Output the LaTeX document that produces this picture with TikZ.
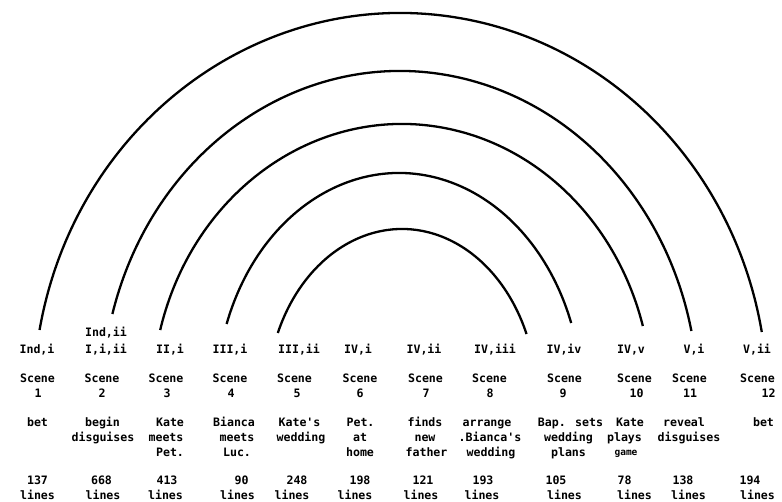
\documentclass[tikz,border=0pt]{standalone}
\usepackage{fontspec}
\newfontfamily\dotmono{DejaVu Sans Mono}
\tikzset{
  arcline/.style={line width=2.3pt, black},
  lbl/.style={font=\dotmono\bfseries\fontsize{11.6}{12}\selectfont, inner sep=0pt, anchor=base},
  small/.style={font=\dotmono\bfseries\fontsize{9.5}{10}\selectfont, inner sep=0pt, anchor=base}
}
\begin{document}
\begin{tikzpicture}[x=1pt,y=1pt]
\useasboundingbox (0,0) rectangle (782,-501);
% arcs
\coordinate (e1) at (39.55,-330);
\coordinate (e2) at (112.4,-314);
\coordinate (e3) at (160.2,-330);
\coordinate (e4) at (226.6,-324);
\coordinate (e5) at (277.8,-333);
\draw[arcline] (e1) arc[start angle=169.58, end angle=10.12, x radius=367pt, y radius=387pt];
\draw[arcline] (e2) arc[start angle=164.845, end angle=12.107, x radius=298pt, y radius=329pt];
\draw[arcline] (e3) arc[start angle=165.31, end angle=15.55, x radius=250pt, y radius=276pt];
\draw[arcline] (e4) arc[start angle=160.44, end angle=19.83, x radius=183pt, y radius=227pt];
\draw[arcline] (e5) arc[start angle=156.93, end angle=22.70, x radius=135pt, y radius=171pt];
% act/scene references
\node[lbl] (a2x) at (106,-336) {Ind,ii};
\node[lbl] (a1) at (37,-353) {Ind,i};
\node[lbl] (a2) at (106,-353) {I,i,ii};
\node[lbl] (a3) at (170,-353) {II,i};
\node[lbl] (a4) at (230,-353) {III,i};
\node[lbl] (a5) at (299,-353) {III,ii};
\node[lbl] (a6) at (358,-353) {IV,i};
\node[lbl] (a7) at (424,-353) {IV,ii};
\node[lbl] (a8) at (495,-353) {IV,iii};
\node[lbl] (a9) at (564,-353) {IV,iv};
\node[lbl] (a10) at (631,-353) {IV,v};
\node[lbl] (a11) at (694,-353) {V,i};
\node[lbl] (a12) at (757,-353) {V,ii};
% Scene
\node[lbl] (s1) at (37.5,-382) {Scene};
\node[lbl] (s2) at (102,-382) {Scene};
\node[lbl] (s3) at (166,-382) {Scene};
\node[lbl] (s4) at (230,-382) {Scene};
\node[lbl] (s5) at (294.5,-382) {Scene};
\node[lbl] (s6) at (360,-382) {Scene};
\node[lbl] (s7) at (425.5,-382) {Scene};
\node[lbl] (s8) at (489.5,-382) {Scene};
\node[lbl] (s9) at (564.5,-382) {Scene};
\node[lbl] (s10) at (634.5,-382) {Scene};
\node[lbl] (s11) at (689.5,-382) {Scene};
\node[lbl] (s12) at (757.5,-382) {Scene};
% numbers
\node[lbl] (n1) at (38,-397) {1};
\node[lbl] (n2) at (102,-397) {2};
\node[lbl] (n3) at (167,-397) {3};
\node[lbl] (n4) at (231,-397) {4};
\node[lbl] (n5) at (297,-397) {5};
\node[lbl] (n6) at (360,-397) {6};
\node[lbl] (n7) at (426,-397) {7};
\node[lbl] (n8) at (490,-397) {8};
\node[lbl] (n9) at (563,-397) {9};
\node[lbl] (n10) at (636.5,-397) {10};
\node[lbl] (n11) at (690,-397) {11};
\node[lbl] (n12) at (768.5,-397) {12};
% descriptions
\node[lbl] (d1a) at (37.5,-426) {bet};
\node[lbl] (d2a) at (102.5,-426) {begin};
\node[lbl] (d2b) at (103,-441) {disguises};
\node[lbl] (d3a) at (170,-426) {Kate};
\node[lbl] (d3b) at (166,-441) {meets};
\node[lbl] (d3c) at (170,-456) {Pet.};
\node[lbl] (d4a) at (234,-426) {Bianca};
\node[lbl] (d4b) at (237,-441) {meets};
\node[lbl] (d4c) at (237,-456) {Luc.};
\node[lbl] (d5a) at (299.5,-426) {Kate's};
\node[lbl] (d5b) at (301,-441) {wedding};
\node[lbl] (d6a) at (360.5,-426) {Pet.};
\node[lbl] (d6b) at (360,-441) {at};
\node[lbl] (d6c) at (360,-456) {home};
\node[lbl] (d7a) at (425,-426) {finds};
\node[lbl] (d7b) at (425,-441) {new};
\node[lbl] (d7c) at (426.5,-456) {father};
\node[lbl] (d8a) at (487,-426) {arrange};
\node[lbl] (d8b) at (490,-441) {.Bianca's};
\node[lbl] (d8c) at (491,-456) {wedding};
\node[lbl] (d9a) at (570.5,-426) {Bap. sets};
\node[lbl] (d9b) at (568.5,-441) {wedding};
\node[lbl] (d9c) at (568.5,-456) {plans};
\node[lbl] (d10a) at (630,-426) {Kate};
\node[lbl] (d10b) at (624.5,-441) {plays};
\node[small] (d10c) at (626,-455) {game};
\node[lbl] (d11a) at (684,-426) {reveal};
\node[lbl] (d11b) at (689,-441) {disguises};
\node[lbl] (d12a) at (763.5,-426) {bet};
% line counts
\node[lbl] (c1) at (37.5,-484) {137};
\node[lbl] (l1) at (37.5,-499) {lines};
\node[lbl] (c2) at (101.5,-484) {668};
\node[lbl] (l2) at (103,-499) {lines};
\node[lbl] (c3) at (167,-484) {413};
\node[lbl] (l3) at (165.5,-499) {lines};
\node[lbl] (c4) at (241.5,-484) {90};
\node[lbl] (l4) at (237.5,-499) {lines};
\node[lbl] (c5) at (297,-484) {248};
\node[lbl] (l5) at (292,-499) {lines};
\node[lbl] (c6) at (360,-484) {198};
\node[lbl] (l6) at (355,-499) {lines};
\node[lbl] (c7) at (423,-484) {121};
\node[lbl] (l7) at (421,-499) {lines};
\node[lbl] (c8) at (483,-484) {193};
\node[lbl] (l8) at (482,-499) {lines};
\node[lbl] (c9) at (556,-484) {105};
\node[lbl] (l9) at (564.5,-499) {lines};
\node[lbl] (c10) at (624.5,-484) {78};
\node[lbl] (l10) at (634.5,-499) {lines};
\node[lbl] (c11) at (683,-484) {138};
\node[lbl] (l11) at (688.5,-499) {lines};
\node[lbl] (c12) at (750,-484) {194};
\node[lbl] (l12) at (757.5,-499) {lines};
\end{tikzpicture}
\end{document}
